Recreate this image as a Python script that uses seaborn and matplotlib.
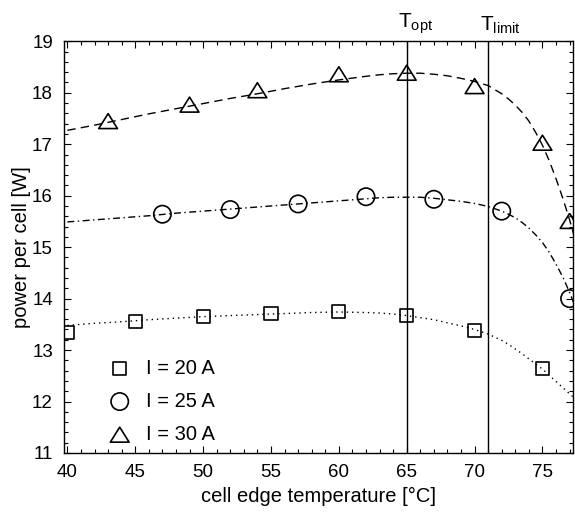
import numpy as np
import pandas as pd
import matplotlib
matplotlib.use("Agg")
import matplotlib.pyplot as plt
import seaborn as sns
from matplotlib.path import Path

# measured points: power per cell [W] vs. cell edge temperature [deg C]
t_20A = [40, 45, 50, 55, 60, 65, 70, 75]
p_20A = [13.35, 13.56, 13.66, 13.71, 13.75, 13.67, 13.38, 12.64]

t_25A = [47, 52, 57, 62, 67, 72, 77]
p_25A = [15.64, 15.73, 15.84, 15.98, 15.93, 15.70, 14.00]

t_30A = [43, 49, 54, 60, 65, 70, 75, 77]
p_30A = [17.45, 17.77, 18.05, 18.36, 18.39, 18.13, 17.03, 15.51]

# model curves
fit_t = [40, 42, 44, 46, 48, 50, 52, 54, 56, 58, 60, 62, 63, 64, 65, 66, 67,
         68, 69, 70, 71, 72, 72.5, 73, 73.5, 74, 74.5, 75, 75.5, 76, 76.5,
         77, 77.3]
fit_20A = [13.48, 13.52, 13.55, 13.59, 13.62, 13.65, 13.67, 13.69, 13.71, 13.73,
           13.74, 13.73, 13.72, 13.70, 13.67, 13.63, 13.59, 13.53, 13.47, 13.40,
           13.31, 13.19, 13.11, 13.02, 12.93, 12.83, 12.73, 12.63, 12.51, 12.39,
           12.27, 12.15, 12.08]
fit_25A = [15.49, 15.53, 15.57, 15.61, 15.66, 15.70, 15.74, 15.78, 15.82, 15.86,
           15.90, 15.94, 15.96, 15.97, 15.97, 15.97, 15.95, 15.92, 15.89, 15.85,
           15.79, 15.70, 15.64, 15.57, 15.48, 15.37, 15.24, 15.09, 14.90, 14.67,
           14.42, 14.12, 13.92]
fit_30A = [17.27, 17.37, 17.48, 17.59, 17.69, 17.79, 17.89, 17.98, 18.08, 18.17,
           18.25, 18.32, 18.35, 18.37, 18.38, 18.38, 18.36, 18.33, 18.28, 18.22,
           18.14, 17.98, 17.88, 17.76, 17.62, 17.45, 17.23, 16.98, 16.68, 16.33,
           15.95, 15.53, 15.25]

labels = ["I = 20 A", "I = 25 A", "I = 30 A"]
t_opt = 65
t_limit = 71

sns.set_style("ticks")
plt.rcParams["font.family"] = ["Liberation Sans", "DejaVu Sans"]
plt.rcParams["mathtext.default"] = "regular"
for key in ("text.color", "axes.labelcolor", "xtick.color", "ytick.color"):
    plt.rcParams[key] = "black"

fig = plt.figure(figsize=(5.75, 5.17), dpi=100)
ax = fig.add_axes([0.1113, 0.1238, 0.8852, 0.7963])

# wide triangle marker
tri = Path([(0, 0.8), (-1, -0.8), (1, -0.8), (0, 0.8)],
           [Path.MOVETO, Path.LINETO, Path.LINETO, Path.CLOSEPOLY])

n = len(fit_t)
fits = pd.DataFrame({"t": fit_t * 3,
                     "p": fit_20A + fit_25A + fit_30A,
                     "I": [labels[0]] * n + [labels[1]] * n + [labels[2]] * n})
sns.lineplot(data=fits, x="t", y="p", hue="I", style="I",
             palette=["black"] * 3,
             dashes={labels[0]: (1, 2.8), labels[1]: (5, 2.5, 1, 2.5),
                     labels[2]: (6, 3.8)},
             linewidth=1.0, legend=False, ax=ax, estimator=None, sort=False)

series = [(t_20A, p_20A, "s", 9.4), (t_25A, p_25A, "o", 12.5),
          (t_30A, p_30A, tri, 13.5)]
for (tx, py, mk, ms), lab in zip(series, labels):
    sns.scatterplot(x=tx, y=py, marker=mk, s=ms ** 2, facecolor="none",
                    edgecolor="black", linewidth=1.2, label=lab, ax=ax,
                    zorder=3, clip_on=True)

for tv, name in [(t_opt, "opt"), (t_limit, "limit")]:
    ax.axvline(tv, color="black", lw=1.0, zorder=2)
    ax.annotate(r"$\mathregular{T_{%s}}$" % name, xy=(tv, 1.0),
                xycoords=("data", "axes fraction"), xytext=(-6, 4),
                textcoords="offset points", ha="left", va="bottom",
                fontsize=15, annotation_clip=False)

ax.set_xlim(39.75, 77.25)
ax.set_ylim(11, 19)
ax.set_xticks(np.arange(40, 76, 5))
ax.set_yticks(np.arange(11, 20, 1))
ax.xaxis.set_minor_locator(matplotlib.ticker.MultipleLocator(1))
ax.yaxis.set_minor_locator(matplotlib.ticker.MultipleLocator(0.2))
ax.tick_params(which="both", direction="in", top=True, right=True,
               color="black", width=0.8)
ax.tick_params(which="major", length=5, labelsize=13.5, pad=8)
ax.tick_params(which="minor", length=3)
for sp in ax.spines.values():
    sp.set_visible(True)
    sp.set_color("black")
    sp.set_linewidth(1.0)

ax.set_xlabel("cell edge temperature [°C]", fontsize=14.5, labelpad=4)
ax.set_ylabel("power per cell [W]", fontsize=14.5, labelpad=1)

leg = ax.legend(loc="lower left", bbox_to_anchor=(0.06, 0.0), frameon=False,
                fontsize=14.5, handletextpad=0.5, handlelength=1.6,
                labelspacing=0.7, borderaxespad=0.05, markerscale=1.0)

fig.savefig("out.png", dpi=100)
